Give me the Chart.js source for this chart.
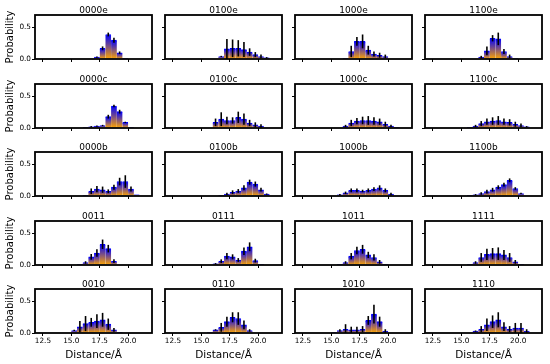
<!DOCTYPE html>
<html lang="en">
<head>
<meta charset="UTF-8">
<title>Distance histograms</title>
<style>
    body { margin: 0; background: #fff; }
    #fig { position: relative; width: 550px; height: 364px; overflow: hidden; background: #fff; }
    #fig canvas { position: absolute; }
</style>
<script src="https://cdn.jsdelivr.net/npm/chart.js"></script>
</head>
<body>
<div id="fig"></div>
<script>
// bin centres (Å), shared by every panel
const BIN_CENTERS = [14.25, 14.75, 15.25, 15.75, 16.25, 16.75, 17.25, 17.75, 18.25, 18.75, 19.25, 19.75, 20.25, 20.75, 21.25];
const X_TICKS = [12.5, 15.0, 17.5, 20.0];
const Y_TICKS = [0.0, 0.5];

const TITLES = [
    ['0000e', '0100e', '1000e', '1100e'],
    ['0000c', '0100c', '1000c', '1100c'],
    ['0000b', '0100b', '1000b', '1100b'],
    ['0011', '0111', '1011', '1111'],
    ['0010', '0110', '1010', '1110']
];

// probability per bin, and its error
const p0000e = [0, 0, 0, 0, 0, 0, 0.03, 0.17, 0.39, 0.30, 0.10, 0.01, 0, 0, 0];
const e0000e = [0, 0, 0, 0, 0, 0, 0.01, 0.03, 0.03, 0.04, 0.02, 0, 0, 0, 0];
const p0100e = [0, 0, 0, 0, 0, 0.04, 0.16, 0.17, 0.17, 0.15, 0.11, 0.07, 0.04, 0.02, 0];
const e0100e = [0, 0, 0, 0, 0, 0.01, 0.16, 0.14, 0.13, 0.12, 0.06, 0.04, 0.03, 0.01, 0];
const p1000e = [0, 0, 0, 0, 0.01, 0.12, 0.28, 0.28, 0.14, 0.08, 0.06, 0.04, 0, 0, 0];
const e1000e = [0, 0, 0, 0, 0, 0.09, 0.07, 0.11, 0.07, 0.04, 0.04, 0.03, 0, 0, 0];
const p1100e = [0, 0, 0, 0, 0, 0.03, 0.13, 0.33, 0.32, 0.12, 0.04, 0.01, 0, 0, 0];
const e1100e = [0, 0, 0, 0, 0, 0.02, 0.07, 0.05, 0.10, 0.04, 0.03, 0, 0, 0, 0];

const p0000c = [0, 0, 0, 0, 0.01, 0.02, 0.03, 0.04, 0.18, 0.35, 0.26, 0.09, 0.01, 0, 0];
const e0000c = [0, 0, 0, 0, 0, 0.01, 0.01, 0.01, 0.03, 0.02, 0.03, 0.01, 0, 0, 0];
const p0100c = [0, 0, 0, 0, 0.09, 0.14, 0.12, 0.12, 0.17, 0.14, 0.08, 0.05, 0.03, 0, 0];
const e0100c = [0, 0, 0, 0, 0.06, 0.11, 0.06, 0.05, 0.09, 0.09, 0.05, 0.04, 0.03, 0, 0];
const p1000c = [0, 0, 0, 0, 0.03, 0.08, 0.11, 0.12, 0.12, 0.11, 0.10, 0.06, 0.03, 0.01, 0];
const e1000c = [0, 0, 0, 0, 0.02, 0.05, 0.05, 0.06, 0.07, 0.06, 0.05, 0.04, 0.02, 0, 0];
const p1100c = [0, 0, 0, 0.01, 0.03, 0.07, 0.10, 0.11, 0.12, 0.10, 0.09, 0.06, 0.04, 0.02, 0];
const e1100c = [0, 0, 0, 0, 0.02, 0.04, 0.05, 0.06, 0.07, 0.05, 0.05, 0.04, 0.03, 0.01, 0];

const p0000b = [0, 0, 0, 0, 0.01, 0.075, 0.11, 0.10, 0.075, 0.14, 0.23, 0.23, 0.11, 0.02, 0];
const e0000b = [0, 0, 0, 0, 0, 0.045, 0.05, 0.05, 0.03, 0.04, 0.06, 0.10, 0.04, 0, 0];
const p0100b = [0, 0, 0, 0, 0, 0.01, 0.03, 0.06, 0.08, 0.13, 0.22, 0.19, 0.10, 0.03, 0];
const e0100b = [0, 0, 0, 0, 0, 0, 0.02, 0.03, 0.03, 0.04, 0.04, 0.04, 0.03, 0.01, 0];
const p1000b = [0, 0, 0, 0.02, 0.05, 0.09, 0.09, 0.08, 0.09, 0.11, 0.13, 0.09, 0.03, 0, 0];
const e1000b = [0, 0, 0, 0.01, 0.02, 0.03, 0.03, 0.02, 0.03, 0.03, 0.04, 0.03, 0.02, 0, 0];
const p1100b = [0, 0, 0, 0.01, 0.02, 0.04, 0.07, 0.10, 0.14, 0.18, 0.25, 0.12, 0.04, 0, 0];
const e1100b = [0, 0, 0, 0, 0.01, 0.02, 0.03, 0.03, 0.03, 0.03, 0.03, 0.02, 0.01, 0, 0];

const p0011 = [0, 0, 0, 0.01, 0.04, 0.13, 0.19, 0.33, 0.26, 0.06, 0, 0, 0, 0, 0];
const e0011 = [0, 0, 0, 0, 0.02, 0.045, 0.06, 0.075, 0.06, 0.03, 0, 0, 0, 0, 0];
const p0111 = [0, 0, 0, 0, 0.02, 0.06, 0.14, 0.13, 0.08, 0.22, 0.29, 0.07, 0.01, 0, 0];
const e0111 = [0, 0, 0, 0, 0.01, 0.03, 0.05, 0.04, 0.03, 0.06, 0.07, 0.03, 0, 0, 0];
const p1011 = [0, 0, 0, 0.01, 0.04, 0.14, 0.23, 0.25, 0.16, 0.12, 0.05, 0.01, 0, 0, 0];
const e1011 = [0, 0, 0, 0, 0.02, 0.05, 0.06, 0.07, 0.05, 0.05, 0.03, 0, 0, 0, 0];
const p1111 = [0, 0, 0, 0.01, 0.04, 0.12, 0.17, 0.18, 0.18, 0.16, 0.12, 0.05, 0.01, 0, 0];
const e1111 = [0, 0, 0, 0, 0.02, 0.07, 0.09, 0.09, 0.10, 0.08, 0.07, 0.03, 0, 0, 0];

const p0010 = [0, 0, 0.04, 0.10, 0.15, 0.17, 0.19, 0.21, 0.14, 0.05, 0.01, 0, 0, 0, 0];
const e0010 = [0, 0, 0.01, 0.09, 0.12, 0.07, 0.11, 0.11, 0.09, 0.03, 0, 0, 0, 0, 0];
const p0110 = [0, 0, 0, 0.01, 0.05, 0.09, 0.18, 0.25, 0.23, 0.13, 0.04, 0, 0, 0, 0];
const e0110 = [0, 0, 0, 0, 0.01, 0.07, 0.08, 0.08, 0.10, 0.07, 0.02, 0, 0, 0, 0];
const p1010 = [0, 0, 0.01, 0.04, 0.06, 0.05, 0.05, 0.06, 0.20, 0.30, 0.18, 0.03, 0, 0, 0];
const e1010 = [0, 0, 0, 0.02, 0.08, 0.05, 0.05, 0.05, 0.07, 0.15, 0.08, 0.03, 0, 0, 0];
const p1110 = [0, 0, 0, 0, 0.03, 0.06, 0.13, 0.18, 0.21, 0.10, 0.06, 0.08, 0.08, 0.03, 0];
const e1110 = [0, 0, 0, 0, 0.01, 0.05, 0.10, 0.10, 0.12, 0.07, 0.05, 0.08, 0.08, 0.03, 0];

const PROBS = [
    [p0000e, p0100e, p1000e, p1100e],
    [p0000c, p0100c, p1000c, p1100c],
    [p0000b, p0100b, p1000b, p1100b],
    [p0011, p0111, p1011, p1111],
    [p0010, p0110, p1010, p1110]
];
const ERRS = [
    [e0000e, e0100e, e1000e, e1100e],
    [e0000c, e0100c, e1000c, e1100c],
    [e0000b, e0100b, e1000b, e1100b],
    [e0011, e0111, e1011, e1111],
    [e0010, e0110, e1010, e1110]
];

// grid geometry (plot boxes)
const COL_LEFT = [35, 165, 295, 425];
const ROW_TOP = [15, 84, 152, 221, 289];
const BOX_W = 117, BOX_H = 44;
const FONT = 'DejaVu Sans';

// error bars, black frame and panel title
const frame = {
    id: 'frame',
    afterDatasetsDraw(chart, args, opts) {
        const ctx = chart.ctx, a = chart.chartArea, ys = chart.scales.y;
        const meta = chart.getDatasetMeta(0);
        ctx.save();
        ctx.beginPath();
        ctx.rect(a.left, a.top, a.right - a.left, a.bottom - a.top);
        ctx.clip();
        ctx.strokeStyle = '#000';
        ctx.lineWidth = 1.6;
        meta.data.forEach((bar, i) => {
            const d = chart.data.datasets[0].data[i];
            if (!d.err) return;
            ctx.beginPath();
            ctx.moveTo(bar.x, ys.getPixelForValue(d.y - d.err));
            ctx.lineTo(bar.x, ys.getPixelForValue(d.y + d.err));
            ctx.stroke();
        });
        ctx.restore();

        ctx.save();
        ctx.strokeStyle = '#000';
        ctx.lineWidth = 1.8;
        ctx.strokeRect(a.left, a.top, a.right - a.left, a.bottom - a.top);
        ctx.fillStyle = '#000';
        ctx.font = '9px "' + FONT + '"';
        ctx.textAlign = 'center';
        ctx.textBaseline = 'alphabetic';
        ctx.fillText(opts.title, (a.left + a.right) / 2, a.top - 2.5);
        ctx.restore();
    }
};

function barGradient(c) {
    const ys = c.chart.scales.y;
    if (!ys || !c.raw) return '#0000ff';
    const top = ys.getPixelForValue(c.raw.y), base = ys.getPixelForValue(0);
    if (!isFinite(top) || !isFinite(base) || top === base) return '#0000ff';
    const g = c.chart.ctx.createLinearGradient(0, base, 0, top);
    g.addColorStop(0, '#ffa500');
    g.addColorStop(1, '#0000ff');
    return g;
}

const fig = document.getElementById('fig');

TITLES.forEach((row, r) => {
    row.forEach((name, c) => {
        const L = c === 0 ? 35 : 8;
        const T = 14;
        const B = r === 4 ? 31 : 6;
        const R = 4;
        const cv = document.createElement('canvas');
        cv.width = L + BOX_W + R;
        cv.height = T + BOX_H + B;
        cv.style.left = (COL_LEFT[c] - L) + 'px';
        cv.style.top = (ROW_TOP[r] - T) + 'px';
        cv.style.width = cv.width + 'px';
        cv.style.height = cv.height + 'px';
        fig.appendChild(cv);

        const probs = PROBS[r][c], errs = ERRS[r][c];
        const points = [];
        BIN_CENTERS.forEach((x, i) => {
            if (probs[i] > 0) points.push({ x: x, y: probs[i], err: errs[i] });
        });

        new Chart(cv, {
            type: 'bar',
            data: {
                datasets: [{
                    data: points,
                    backgroundColor: barGradient,
                    borderColor: '#0000ff',
                    borderWidth: { top: 1, left: 0, right: 0, bottom: 0 },
                    barPercentage: 1,
                    categoryPercentage: 1
                }]
            },
            plugins: [frame],
            options: {
                responsive: false,
                animation: false,
                events: [],
                layout: { padding: { left: 0, right: R, top: T, bottom: 0 } },
                plugins: {
                    legend: { display: false },
                    tooltip: { enabled: false },
                    title: { display: false },
                    frame: { title: name }
                },
                scales: {
                    x: {
                        type: 'linear',
                        offset: false,
                        min: 11.8,
                        max: 22.1,
                        afterBuildTicks: s => { s.ticks = X_TICKS.map(v => ({ value: v })); },
                        afterFit: s => { s.height = B; },
                        ticks: {
                            display: r === 4,
                            autoSkip: false,
                            maxRotation: 0,
                            padding: 1,
                            color: '#000',
                            font: { family: FONT, size: 7.3 },
                            callback: v => v.toFixed(1)
                        },
                        grid: { display: true, offset: false, drawOnChartArea: false, drawTicks: true, tickLength: 3, color: '#000', lineWidth: 1 },
                        border: { display: false },
                        title: {
                            display: r === 4,
                            text: 'Distance/Å',
                            color: '#000',
                            font: { family: FONT, size: 10.5 },
                            padding: { top: 0, bottom: 2 }
                        }
                    },
                    y: {
                        min: 0,
                        max: 0.7,
                        afterBuildTicks: s => { s.ticks = Y_TICKS.map(v => ({ value: v })); },
                        afterFit: s => { s.width = L; },
                        ticks: {
                            display: c === 0,
                            padding: 1,
                            color: '#000',
                            font: { family: FONT, size: 7.3 },
                            callback: v => v.toFixed(1)
                        },
                        grid: { display: true, offset: false, drawOnChartArea: false, drawTicks: true, tickLength: 3, color: '#000', lineWidth: 1 },
                        border: { display: false },
                        title: {
                            display: c === 0,
                            text: 'Probability',
                            color: '#000',
                            font: { family: FONT, size: 10 },
                            padding: { top: 4, bottom: 0 }
                        }
                    }
                }
            }
        });
    });
});
</script>
</body>
</html>
